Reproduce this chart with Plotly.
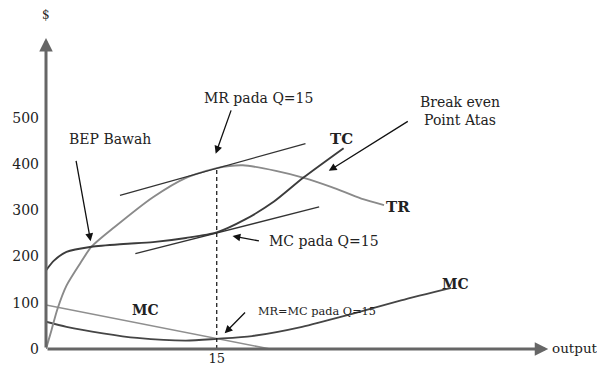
import plotly.graph_objects as go

# Output quantity (Q) and dollar values for each curve
tr_q = [0, 0.45, 1.0, 1.8, 3.0, 4.0, 6.0, 9.4, 12.3, 15.0, 17.3, 20.2, 22.65, 25.1, 27.7, 29.7]
tr_v = [0, 38, 86, 137, 185, 221, 263, 328, 370, 391, 397, 385, 370, 350, 325, 311]

tc_q = [0, 0.7, 1.8, 4.0, 6.8, 9.4, 12.3, 15.0, 17.5, 20.0, 22.65, 26.15]
tc_v = [170, 191, 210, 221, 227, 231, 240, 252, 280, 318, 371, 434]

mc_q = [0, 1.8, 5.0, 8.0, 12.3, 15.0, 18.1, 22.5, 26.9, 31.2, 35.6]
mc_v = [59, 48, 34, 24, 18, 22, 28, 48, 76, 105, 132]

mr_q = [0, 19.7]
mr_v = [95, 0]

# Tangent lines at Q = 15
mr_tan_q = [6.5, 22.8]
mr_tan_v = [332, 444]
mc_tan_q = [7.85, 24.0]
mc_tan_v = [206, 307]

q_star = 15
tr_at_q_star = 391

y_ticks = [0, 100, 200, 300, 400, 500]
x_ticks = [15]

SERIF = "DejaVu Serif"

fig = go.Figure()

def curve(q, v, color, width):
    fig.add_trace(go.Scatter(x=q, y=v, mode="lines",
                             line=dict(color=color, width=width, shape="spline", smoothing=0.7),
                             hoverinfo="skip", showlegend=False, cliponaxis=False))

curve(mr_q, mr_v, "#8f8f8f", 1.6)
curve(mc_q, mc_v, "#454545", 1.8)
curve(tr_q, tr_v, "#8a8a8a", 1.9)
curve(tc_q, tc_v, "#3c3c3c", 1.9)

fig.add_trace(go.Scatter(x=mr_tan_q, y=mr_tan_v, mode="lines",
                         line=dict(color="#333333", width=1.3),
                         hoverinfo="skip", showlegend=False))
fig.add_trace(go.Scatter(x=mc_tan_q, y=mc_tan_v, mode="lines",
                         line=dict(color="#333333", width=1.3),
                         hoverinfo="skip", showlegend=False))

# Dashed guide at Q = 15
fig.add_trace(go.Scatter(x=[q_star, q_star], y=[0, tr_at_q_star], mode="lines",
                         line=dict(color="#222222", width=1.3, dash="4px,3px"),
                         hoverinfo="skip", showlegend=False))

annotations = []

# Axis arrows
annotations.append(dict(x=44.13, y=0, ax=0, ay=0, xref="x", yref="y", axref="x", ayref="y",
                        text="", showarrow=True, arrowhead=2, arrowsize=0.9,
                        arrowwidth=3, arrowcolor="#666666", standoff=0))
annotations.append(dict(x=0, y=672, ax=0, ay=0, xref="x", yref="y", axref="x", ayref="y",
                        text="", showarrow=True, arrowhead=2, arrowsize=0.9,
                        arrowwidth=3, arrowcolor="#666666", standoff=0))

# Pointer arrows: (head_x, head_y, tail_x, tail_y)
pointers = [
    (3.92, 233, 2.62, 410),    # BEP Bawah
    (14.91, 422, 16.31, 519),  # MR pada Q=15
    (24.85, 385, 31.92, 494),  # Break even Point Atas
    (16.39, 244, 18.84, 233),  # MC pada Q=15
    (15.70, 34, 17.62, 82),    # MR=MC pada Q=15
]
for hx, hy, tx, ty in pointers:
    annotations.append(dict(x=hx, y=hy, ax=tx, ay=ty, xref="x", yref="y", axref="x", ayref="y",
                            text="", showarrow=True, arrowhead=2, arrowsize=1.2,
                            arrowwidth=1.3, arrowcolor="#111111", standoff=0))

def label(x, y, text, size=14, bold=False, xanchor="center"):
    t = f"<b>{text}</b>" if bold else text
    annotations.append(dict(x=x, y=y, xref="x", yref="y", text=t, showarrow=False,
                            xanchor=xanchor, yanchor="middle",
                            font=dict(family=SERIF, size=size, color="#222222")))

label(5.58, 454, "BEP Bawah", 14)
label(18.66, 542, "MR pada Q=15", 14)
label(25.99, 454, "TC", 15, bold=True)
label(32.70, 514, "Break even<br>Point Atas", 14, xanchor="left")
label(30.96, 307, "TR", 15, bold=True)
label(24.42, 233, "MC pada Q=15", 14)
label(8.72, 84, "MC", 14, bold=True)
label(23.81, 80, "MR=MC pada Q=15", 11.3)
label(36.02, 141, "MC", 14, bold=True)
label(44.3, 2, "output", 13.5, xanchor="left")

annotations.append(dict(x=0, y=1.046, xref="x", yref="paper", text="$", showarrow=False,
                        xanchor="center", yanchor="middle",
                        font=dict(family=SERIF, size=12, color="#222222")))

fig.update_layout(
    width=597, height=378,
    margin=dict(l=42, r=45, t=30, b=20),
    paper_bgcolor="white", plot_bgcolor="white",
    annotations=annotations,
    xaxis=dict(range=[0, 44.46], showgrid=False, zeroline=False, showline=False,
               tickmode="array", tickvals=x_ticks, ticktext=[str(v) for v in x_ticks],
               ticks="", tickfont=dict(family=SERIF, size=13, color="#222222")),
    yaxis=dict(range=[0, 689.4], showgrid=False, zeroline=False, showline=False,
               tickmode="array", tickvals=y_ticks, ticktext=[str(v) for v in y_ticks],
               ticks="", ticklabelstandoff=6,
               tickfont=dict(family=SERIF, size=14, color="#222222")),
)

fig.write_html("out.html")
